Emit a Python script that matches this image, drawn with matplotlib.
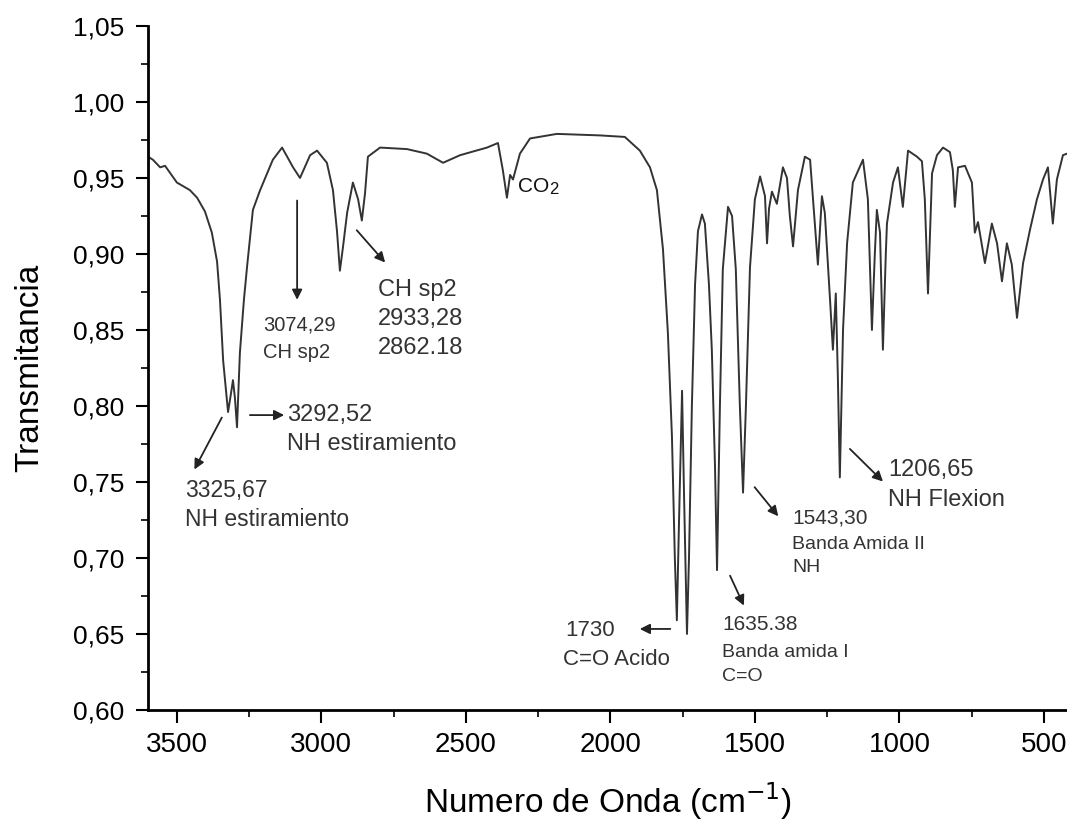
import matplotlib
matplotlib.use("Agg")
import matplotlib.pyplot as plt
from matplotlib.ticker import MultipleLocator, FuncFormatter
from matplotlib.transforms import offset_copy

# FTIR spectrum (wavenumber in cm-1, transmittance)
wavenumber = [3600, 3583, 3558, 3541, 3500, 3455, 3430, 3403, 3379, 3361, 3351, 3340,
              3323, 3313, 3306, 3299, 3292, 3282, 3268, 3257, 3237, 3212, 3168, 3136,
              3098, 3074, 3039, 3015, 2981, 2960, 2946, 2936, 2925, 2911, 2891, 2873,
              2860, 2849, 2839, 2797, 2704, 2635, 2579, 2520, 2427, 2389, 2372, 2358,
              2347, 2337, 2313, 2278, 2185, 2036, 1950, 1898, 1863, 1839, 1818, 1801,
              1787, 1777, 1770, 1763, 1752, 1745, 1735, 1728, 1718, 1707, 1697, 1683,
              1673, 1659, 1649, 1638, 1631, 1621, 1611, 1593, 1579, 1566, 1552, 1541,
              1531, 1517, 1500, 1482, 1465, 1458, 1451, 1441, 1424, 1403, 1389, 1379,
              1368, 1351, 1327, 1309, 1292, 1282, 1268, 1258, 1240, 1230, 1220, 1213,
              1206, 1195, 1181, 1161, 1126, 1109, 1095, 1085, 1078, 1067, 1057, 1047,
              1043, 1022, 1005, 988, 970, 939, 922, 912, 901, 887, 870, 849,
              825, 815, 808, 797, 773, 749, 739, 728, 704, 680, 662, 645,
              628, 611, 593, 572, 548, 524, 503, 486, 469, 455, 434, 420]
transmittance = [0.964, 0.962, 0.957, 0.958, 0.947, 0.942, 0.937, 0.928, 0.914, 0.895, 0.870, 0.830,
                 0.796, 0.808, 0.817, 0.805, 0.786, 0.835, 0.870, 0.892, 0.929, 0.942, 0.962, 0.970,
                 0.957, 0.950, 0.965, 0.968, 0.960, 0.942, 0.915, 0.889, 0.905, 0.927, 0.947, 0.936,
                 0.922, 0.940, 0.964, 0.970, 0.969, 0.966, 0.960, 0.965, 0.970, 0.973, 0.955, 0.937,
                 0.952, 0.949, 0.966, 0.976, 0.979, 0.978, 0.977, 0.968, 0.957, 0.942, 0.903, 0.848,
                 0.780, 0.700, 0.659, 0.720, 0.810, 0.740, 0.650, 0.700, 0.800, 0.880, 0.915, 0.926,
                 0.920, 0.880, 0.837, 0.760, 0.692, 0.800, 0.890, 0.931, 0.925, 0.890, 0.800, 0.743,
                 0.800, 0.891, 0.936, 0.951, 0.938, 0.907, 0.930, 0.941, 0.933, 0.957, 0.950, 0.925,
                 0.905, 0.942, 0.964, 0.962, 0.918, 0.893, 0.938, 0.927, 0.870, 0.837, 0.874, 0.820,
                 0.753, 0.850, 0.907, 0.947, 0.962, 0.936, 0.850, 0.900, 0.929, 0.914, 0.837, 0.900,
                 0.920, 0.947, 0.957, 0.931, 0.968, 0.964, 0.961, 0.936, 0.874, 0.953, 0.965, 0.970,
                 0.967, 0.955, 0.931, 0.957, 0.958, 0.947, 0.914, 0.921, 0.894, 0.920, 0.907, 0.882,
                 0.907, 0.893, 0.858, 0.894, 0.916, 0.936, 0.949, 0.957, 0.920, 0.949, 0.965, 0.966]

x_ticks = [3500, 3000, 2500, 2000, 1500, 1000, 500]
y_ticks = [0.60, 0.65, 0.70, 0.75, 0.80, 0.85, 0.90, 0.95, 1.00, 1.05]

plt.rcParams['font.family'] = ['Liberation Sans', 'DejaVu Sans']

fig = plt.figure(figsize=(10.67, 8.22), dpi=100)
ax = fig.add_axes([0.1387, 0.1363, 0.8613, 0.8321])

ax.plot(wavenumber, transmittance, color="#333333", linewidth=1.4)

ax.set_xlim(3600, 420)
ax.set_ylim(0.60, 1.05)
ax.set_xticks(x_ticks)
ax.set_yticks(y_ticks)
ax.xaxis.set_minor_locator(MultipleLocator(250))
ax.yaxis.set_minor_locator(MultipleLocator(0.025))
ax.yaxis.set_major_formatter(FuncFormatter(lambda v, p: f"{v:.2f}".replace(".", ",")))
ax.tick_params(which="major", direction="out", length=9, width=1.5)
ax.tick_params(which="minor", direction="out", length=5, width=1.2)
ax.tick_params(axis="y", which="major", labelsize=19, pad=8)
ax.tick_params(axis="x", which="major", labelsize=20, pad=7)

for side in ["top", "right"]:
    ax.spines[side].set_visible(False)
for side in ["left", "bottom"]:
    ax.spines[side].set_linewidth(2)

ax.set_xlabel("Numero de Onda (cm$^{-1}$)", fontsize=24, labelpad=16)
ax.set_ylabel("Transmitancia", fontsize=24, labelpad=20)

arrow = dict(arrowstyle="-|>", color="#222222", lw=1.3, mutation_scale=15)
txt = dict(color="#333333", va="center", ha="left")

# 3074 CH sp2
ax.annotate("", xy=(3084, 0.868), xytext=(3084, 0.937), arrowprops=arrow)
ax.text(3202, 0.853, "3074,29", fontsize=14.5, **txt)
ax.text(3202, 0.8355, "CH sp2", fontsize=14.5, **txt)

# 2933 / 2862 CH sp2
ax.annotate("", xy=(2773, 0.893), xytext=(2884, 0.917), arrowprops=arrow)
ax.text(2804, 0.8763, "CH sp2", fontsize=17, **txt)
ax.text(2804, 0.8572, "2933,28", fontsize=17, **txt)
ax.text(2804, 0.8382, "2862.18", fontsize=17, **txt)

# 3292 NH
ax.annotate("", xy=(3119, 0.794), xytext=(3257, 0.794), arrowprops=arrow)
ax.text(3119, 0.794, "3292,52", fontsize=17, **txt)
ax.text(3119, 0.775, "NH estiramiento", fontsize=17, **txt)

# 3325 NH
ax.annotate("", xy=(3444, 0.7566), xytext=(3340, 0.794), arrowprops=arrow)
ax.text(3472, 0.7447, "3325,67", fontsize=16.5, **txt)
ax.text(3472, 0.725, "NH estiramiento", fontsize=16.5, **txt)

# CO2
ax.text(2318, 0.9405, "CO", fontsize=15, color="#111111", va="baseline", ha="left")
ax.text(2318, 0.9405, "2", fontsize=12, color="#111111", va="baseline", ha="left",
        transform=offset_copy(ax.transData, fig=fig, x=22, y=-1, units="points"))

# 1730 C=O acido
ax.annotate("", xy=(1908, 0.6533), xytext=(1783, 0.6533), arrowprops=arrow)
ax.text(2157, 0.6526, "1730", fontsize=16, **txt)
ax.text(2164, 0.6329, "C=O Acido", fontsize=16, **txt)

# 1635 amida I
ax.annotate("", xy=(1534, 0.667), xytext=(1590, 0.690), arrowprops=arrow)
ax.text(1614, 0.656, "1635.38", fontsize=15, **txt)
ax.text(1614, 0.638, "Banda amida I", fontsize=14, **txt)
ax.text(1614, 0.622, "C=O", fontsize=14, **txt)

# 1543 amida II
ax.annotate("", xy=(1413, 0.726), xytext=(1507, 0.748), arrowprops=arrow)
ax.text(1372, 0.7263, "1543,30", fontsize=15, **txt)
ax.text(1372, 0.7086, "Banda Amida II", fontsize=14, **txt)
ax.text(1372, 0.6934, "NH", fontsize=14, **txt)

# 1206 NH flexion
ax.annotate("", xy=(1050, 0.749), xytext=(1178, 0.773), arrowprops=arrow)
ax.text(1040, 0.7579, "1206,65", fontsize=17, **txt)
ax.text(1040, 0.7382, "NH Flexion", fontsize=17, **txt)

fig.savefig("out.png", dpi=100)
